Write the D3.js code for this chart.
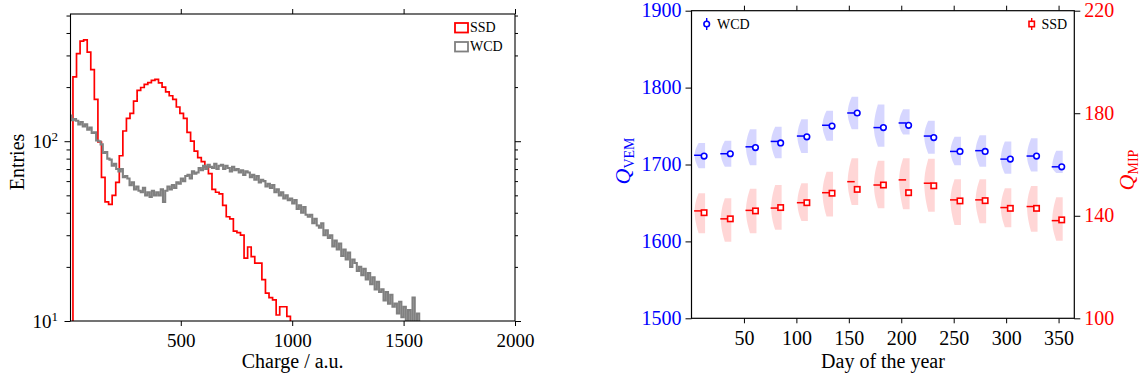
<!DOCTYPE html>
<html><head><meta charset="utf-8">
<script src="https://cdn.jsdelivr.net/npm/d3@7"></script>
<style>
body{margin:0;background:#fff}
svg{display:block}
text{font-family:"Liberation Serif","Times New Roman",serif}
</style>
</head><body>
<svg id="c" width="1141" height="382"></svg>
<script>
// ---------------- DATA ----------------
// Left panel: charge histograms
const ssdBinWidth = 16;
const ssdCounts = [0, 228, 307, 360, 366, 313, 250, 171, 99, 63,
  46, 44.5, 50, 59, 83, 114, 134, 143, 167, 192,
  199, 207, 212, 218, 221, 211, 200, 188, 179, 171,
  155, 143, 134, 112, 100, 88, 81, 77, 72, 66,
  54, 52, 51, 44, 38, 37, 31.6, 31, 30, 22.4,
  25.8, 22.8, 21, 21, 17, 14.3, 13.5, 13.1, 10.8, 12,
  12, 10.6, 0];
const wcdBinWidth = 10;
const wcdCounts = [
  139, 131, 133, 130, 124, 128, 121, 124, 116, 119,
  111, 112, 101, 100, 96, 86, 87, 80, 79, 73,
  75, 70, 68, 70, 63, 64, 62, 57, 59, 54,
  56, 53, 52, 55, 50, 52, 49, 53, 50, 52,
  50, 54, 46, 53, 56, 54, 57, 55, 59, 58,
  62, 60, 64, 65, 62, 68, 66, 67, 71, 69,
  73, 70, 74, 72, 71, 75, 70, 73, 74, 70,
  73, 71, 68, 72, 69, 70, 67, 69, 65, 68,
  67, 63, 65, 61, 64, 59, 61, 60, 56, 58,
  55, 57, 52, 54, 50, 52, 48, 50, 47, 48,
  45, 47, 42, 44, 40, 43, 39, 38, 39, 35,
  37, 34, 33, 35, 30, 32, 29, 30, 26, 28,
  25, 27, 23, 25, 22, 24, 20, 22, 21, 19,
  20, 18, 19.5, 17, 18.5, 16, 17.5, 15, 16.5, 14.5,
  15, 13, 14.5, 12.5, 14, 12, 12.5, 11, 12.8, 10.5,
  12, 10, 11.5, 9.5, 13.5, 9, 11, 8.5, 0, 0];
const chargeTicks = [500, 1000, 1500, 2000];
const entriesMajor = [10, 100];
const entriesMinor = [20, 30, 40, 50, 60, 70, 80, 90, 200, 300, 400, 500];
const histLegend = ["SSD", "WCD"];

// Right panel: seasonal variation
const days = [12, 37, 61, 85, 110, 134, 158, 183, 207, 231, 256, 280, 304, 329, 353];
const wcdMean   = [1711, 1714, 1722, 1728, 1736, 1750, 1767, 1748, 1751, 1735, 1717, 1717, 1707, 1711, 1697];
const wcdMedian = [1712, 1714, 1723, 1730, 1737, 1751, 1767, 1748, 1754, 1737, 1717, 1718, 1707, 1711, 1697];
const wcdLow    = [1695, 1697, 1699, 1708, 1715, 1731, 1746, 1723, 1739, 1714, 1699, 1697, 1688, 1691, 1689];
const wcdHigh   = [1728, 1731, 1746, 1749, 1759, 1770, 1788, 1778, 1772, 1757, 1736, 1738, 1730, 1734, 1718];
const ssdMean   = [141.2, 138.8, 141.9, 143.2, 145.1, 148.8, 150.3, 152, 149, 151.7, 145.8, 145.9, 142.9, 142.9, 138.4];
const ssdMedian = [141.9, 138.8, 142.1, 143, 145.1, 149, 153.3, 152, 154, 152.7, 146.2, 146.2, 143.2, 143.6, 138.1];
const ssdLow    = [133.2, 129.9, 133.2, 134.5, 138, 139.7, 144.2, 142.9, 142.5, 141.6, 136.4, 137.1, 135.5, 133.8, 130.3];
const ssdHigh   = [148.8, 146.8, 150.5, 152, 152.7, 157.2, 162.4, 161.5, 162.4, 162.2, 154.2, 154.2, 150.7, 151.6, 147.2];
const dayTicks = [50, 100, 150, 200, 250, 300, 350];
const vemTicks = [1500, 1600, 1700, 1800, 1900];
const mipTicks = [100, 140, 180, 220];

// ---------------- DRAW ----------------
const svg = d3.select("#c");
const RED = "#ff0000", GRAY = "#808080", BLUE = "#0000ff";
const FONT = '"Liberation Serif","Times New Roman",serif';

function styleAxis(g, size, color) {
  g.select(".domain").remove();
  g.selectAll(".tick line").attr("stroke", "#000").attr("stroke-width", 1);
  g.selectAll(".tick text").attr("font-family", FONT).attr("font-size", size).attr("fill", color || "#000");
  g.attr("font-family", null).attr("font-size", null);
}

// ===== Left panel =====
const xL = d3.scaleLinear().domain([5, 2000]).range([70.5, 515]);
const yL = d3.scaleLog().domain([10, 510]).range([321, 14]);

svg.append("clipPath").attr("id", "clipL").append("rect")
  .attr("x", 70.5).attr("y", 14).attr("width", 444.5).attr("height", 307);

function histPath(counts, bw) {
  const pts = counts.map((v, i) => [i * bw, v]);
  pts.push([counts.length * bw, counts[counts.length - 1]]);
  return d3.line().curve(d3.curveStepAfter)
    .x(d => xL(Math.max(d[0], 0)))
    .y(d => yL(d[1] > 1 ? d[1] : 1))(pts);
}

const plotL = svg.append("g").attr("clip-path", "url(#clipL)");
plotL.append("path").attr("d", histPath(ssdCounts, ssdBinWidth))
  .attr("fill", "none").attr("stroke", RED).attr("stroke-width", 1.7);
plotL.append("path").attr("d", histPath(wcdCounts, wcdBinWidth))
  .attr("fill", "none").attr("stroke", GRAY).attr("stroke-width", 2.1);

// axes left panel
svg.append("g").attr("transform", "translate(0,321)")
  .call(d3.axisBottom(xL).tickValues(chargeTicks).tickSize(5).tickPadding(7.5).tickFormat(d3.format("d")))
  .call(g => styleAxis(g, 19));
svg.append("g").attr("transform", "translate(0,14)")
  .call(d3.axisTop(xL).tickValues(chargeTicks).tickSize(5).tickFormat(""))
  .call(g => styleAxis(g, 19));
svg.append("g").attr("transform", "translate(70.5,0)")
  .call(d3.axisLeft(yL).tickValues(entriesMajor).tickSize(6).tickPadding(6.5).tickFormat(d => ""))
  .call(g => styleAxis(g, 19))
  .call(g => g.selectAll(".tick text").each(function(d) {
    const t = d3.select(this).attr("dy", "0.34em");
    t.append("tspan").text("10");
    t.append("tspan").attr("font-size", 13).attr("dy", "-0.55em").text(Math.round(Math.log10(d)));
  }));
svg.append("g").attr("transform", "translate(70.5,0)")
  .call(d3.axisLeft(yL).tickValues(entriesMinor).tickSize(4).tickFormat(""))
  .call(g => styleAxis(g, 19));
svg.append("g").attr("transform", "translate(515,0)")
  .call(d3.axisRight(yL).tickValues(entriesMajor).tickSize(6).tickFormat(""))
  .call(g => styleAxis(g, 19));
svg.append("g").attr("transform", "translate(515,0)")
  .call(d3.axisRight(yL).tickValues(entriesMinor).tickSize(3).tickFormat(""))
  .call(g => styleAxis(g, 19));

svg.append("rect").attr("x", 70.5).attr("y", 14).attr("width", 444.5).attr("height", 307)
  .attr("fill", "none").attr("stroke", "#000").attr("stroke-width", 1.1);

svg.append("text").attr("x", 292.7).attr("y", 368).attr("text-anchor", "middle")
  .attr("font-size", 20).text("Charge / a.u.");
svg.append("text").attr("transform", "translate(24,162) rotate(-90)").attr("text-anchor", "middle")
  .attr("font-size", 20).text("Entries");

// legend left panel
const legCols = [RED, GRAY];
histLegend.forEach((name, i) => {
  const y = 23 + i * 19;
  svg.append("rect").attr("x", 455).attr("y", y).attr("width", 13).attr("height", 9.5)
    .attr("fill", "none").attr("stroke", legCols[i]).attr("stroke-width", 1.8);
  svg.append("text").attr("x", 470).attr("y", y + 9.3).attr("font-size", 14).text(name);
});

// ===== Right panel =====
const xR = d3.scaleLinear().domain([0, 365]).range([691.5, 1074.3]);
const yW = d3.scaleLinear().domain([1500, 1900]).range([318.3, 10.7]);
const yS = d3.scaleLinear().domain([100, 220]).range([318.3, 10.7]);

function violin(x, lo, med, hi, ys) {
  const xr = x + 1;
  const left = d3.line().curve(d3.curveBasis)([
    [xr - 6.5, ys(hi)], [xr - 9.5, ys(hi) + (ys(med) - ys(hi)) * 0.45],
    [xr - 11, ys(med)], [xr - 9.5, ys(med) + (ys(lo) - ys(med)) * 0.55], [xr - 6.5, ys(lo)]
  ]);
  return "M" + xr + "," + ys(hi) + "L" + left.slice(1) + "L" + xr + "," + ys(lo) + "Z";
}

const gR = svg.append("g");
days.forEach((d, i) => {
  gR.append("path").attr("d", violin(xR(d), wcdLow[i], wcdMedian[i], wcdHigh[i], yW))
    .attr("fill", "rgba(0,0,255,0.16)");
  gR.append("path").attr("d", violin(xR(d), ssdLow[i], ssdMedian[i], ssdHigh[i], yS))
    .attr("fill", "rgba(255,0,0,0.16)");
});
days.forEach((d, i) => {
  const x = xR(d);
  gR.append("line").attr("x1", x - 10).attr("x2", x - 2.5)
    .attr("y1", yW(wcdMedian[i])).attr("y2", yW(wcdMedian[i]))
    .attr("stroke", BLUE).attr("stroke-width", 1.5);
  gR.append("line").attr("x1", x - 10).attr("x2", x - 2.5)
    .attr("y1", yS(ssdMedian[i])).attr("y2", yS(ssdMedian[i]))
    .attr("stroke", RED).attr("stroke-width", 1.5);
  gR.append("circle").attr("cx", x).attr("cy", yW(wcdMean[i])).attr("r", 2.8)
    .attr("fill", "#fff").attr("stroke", BLUE).attr("stroke-width", 1.6);
  gR.append("rect").attr("x", x - 2.7).attr("y", yS(ssdMean[i]) - 2.7).attr("width", 5.4).attr("height", 5.4)
    .attr("fill", "#fff").attr("stroke", RED).attr("stroke-width", 1.6);
});

// axes right panel
svg.append("g").attr("transform", "translate(0,318.3)")
  .call(d3.axisBottom(xR).tickValues(dayTicks).tickSize(5).tickPadding(7.5).tickFormat(d3.format("d")))
  .call(g => styleAxis(g, 20));
svg.append("g").attr("transform", "translate(0,10.7)")
  .call(d3.axisTop(xR).tickValues(dayTicks).tickSize(5).tickFormat(""))
  .call(g => styleAxis(g, 20));
svg.append("g").attr("transform", "translate(691.5,0)")
  .call(d3.axisLeft(yW).tickValues(vemTicks).tickSize(6).tickPadding(4).tickFormat(d3.format("d")))
  .call(g => styleAxis(g, 20, BLUE))
  .call(g => g.selectAll(".tick text").attr("dy", "0.3em"));
svg.append("g").attr("transform", "translate(1074.3,0)")
  .call(d3.axisRight(yS).tickValues(mipTicks).tickSize(6).tickPadding(4).tickFormat(d3.format("d")))
  .call(g => styleAxis(g, 20, RED))
  .call(g => g.selectAll(".tick text").attr("dy", "0.3em"));

svg.append("rect").attr("x", 691.5).attr("y", 10.7).attr("width", 382.8).attr("height", 307.6)
  .attr("fill", "none").attr("stroke", "#000").attr("stroke-width", 1.2);

svg.append("text").attr("x", 883).attr("y", 368).attr("text-anchor", "middle")
  .attr("font-size", 20).text("Day of the year");

const qv = svg.append("text").attr("transform", "translate(630,161) rotate(-90)")
  .attr("text-anchor", "middle").attr("fill", BLUE).attr("font-size", 22);
qv.append("tspan").attr("font-style", "italic").text("Q");
qv.append("tspan").attr("font-size", 14).attr("dy", 4).text("VEM");
const qm = svg.append("text").attr("transform", "translate(1134,170) rotate(-90)")
  .attr("text-anchor", "middle").attr("fill", RED).attr("font-size", 22);
qm.append("tspan").attr("font-style", "italic").text("Q");
qm.append("tspan").attr("font-size", 14).attr("dy", 4).text("MIP");

// legend right panel
svg.append("line").attr("x1", 706.7).attr("x2", 706.7).attr("y1", 18).attr("y2", 30)
  .attr("stroke", BLUE).attr("stroke-width", 1.4);
svg.append("circle").attr("cx", 706.7).attr("cy", 24).attr("r", 2.8)
  .attr("fill", "#fff").attr("stroke", BLUE).attr("stroke-width", 1.6);
svg.append("text").attr("x", 717).attr("y", 28.5).attr("font-size", 14).text("WCD");
svg.append("line").attr("x1", 1031.7).attr("x2", 1031.7).attr("y1", 18).attr("y2", 30)
  .attr("stroke", RED).attr("stroke-width", 1.4);
svg.append("rect").attr("x", 1029).attr("y", 21.3).attr("width", 5.4).attr("height", 5.4)
  .attr("fill", "#fff").attr("stroke", RED).attr("stroke-width", 1.6);
svg.append("text").attr("x", 1041.5).attr("y", 28.5).attr("font-size", 14).text("SSD");
</script>
</body></html>
